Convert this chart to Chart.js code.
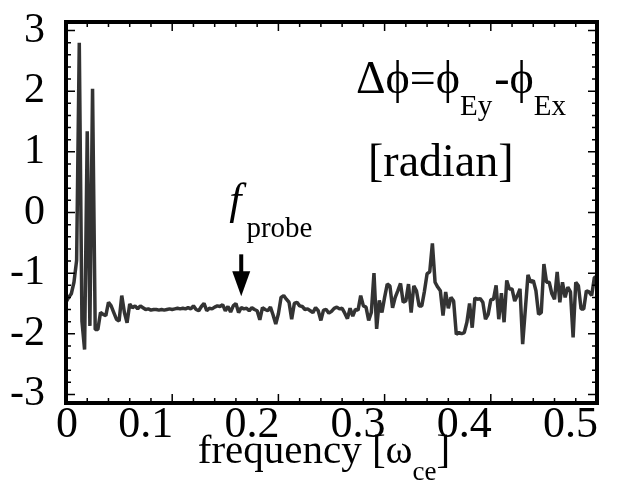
<!DOCTYPE html>
<html><head><meta charset="utf-8">
<script src="https://cdn.jsdelivr.net/npm/chart.js@4.4.1/dist/chart.umd.min.js"></script>
<style>html,body{margin:0;padding:0;background:#fff;}#wrap{width:640px;height:491px;}</style>
</head><body><div id="wrap"><canvas id="c" width="640" height="491"></canvas></div>
<script>
// frequency bin width (units of omega_ce)
const FREQ_STEP = 0.0025;
// phase difference [radian], one value per frequency bin from 0 to 0.5
const PHASE_DIFF = [
 -1.48,-1.40,-1.34,-1.15,-0.79, 2.80,-1.79,-2.26, 1.34,-1.87,
  2.04,-1.93,-1.93,-1.65,-1.68,-1.70,-1.48,-1.54,-1.65,-1.76,
 -1.79,-1.37,-1.65,-1.82,-1.51,-1.57,-1.54,-1.59,-1.54,-1.57,
 -1.60,-1.59,-1.61,-1.60,-1.60,-1.61,-1.60,-1.61,-1.60,-1.59,
 -1.60,-1.59,-1.58,-1.59,-1.58,-1.59,-1.57,-1.59,-1.54,-1.60,
 -1.62,-1.55,-1.50,-1.62,-1.58,-1.59,-1.56,-1.54,-1.55,-1.52,
 -1.62,-1.55,-1.64,-1.54,-1.50,-1.65,-1.57,-1.59,-1.58,-1.62,
 -1.57,-1.60,-1.62,-1.77,-1.57,-1.60,-1.62,-1.56,-1.69,-1.84,
 -1.67,-1.40,-1.37,-1.43,-1.48,-1.76,-1.50,-1.48,-1.54,-1.55,
 -1.60,-1.59,-1.62,-1.65,-1.57,-1.62,-1.78,-1.61,-1.60,-1.66,
 -1.63,-1.58,-1.56,-1.59,-1.58,-1.66,-1.75,-1.58,-1.71,-1.60,
 -1.61,-1.37,-1.54,-1.56,-1.78,-1.65,-1.00,-1.92,-1.45,-1.65,
 -1.40,-1.18,-1.21,-1.57,-1.40,-1.29,-1.17,-1.48,-1.46,-1.18,
 -1.65,-1.21,-1.29,-1.54,-1.54,-1.30,-1.01,-0.98,-0.51,-1.15,
 -1.23,-1.29,-1.70,-1.31,-1.58,-1.40,-1.46,-2.01,-1.98,-2.00,
 -1.98,-1.81,-1.50,-1.90,-1.41,-1.43,-1.42,-1.48,-1.76,-1.68,
 -1.44,-1.43,-1.20,-1.76,-1.33,-1.81,-1.12,-1.26,-1.26,-1.46,
 -1.37,-1.26,-2.17,-1.60,-1.03,-1.15,-1.12,-1.29,-1.68,-1.65,
 -0.85,-1.15,-1.15,-1.34,-1.43,-0.98,-1.48,-1.15,-1.40,-1.23,
 -1.31,-2.06,-1.15,-1.21,-1.59,-1.59,-1.29,-1.31,-1.37,-1.07,
 -1.06
];
const X_TICKS = [0, 0.1, 0.2, 0.3, 0.4, 0.5];
const X_TICK_LABELS = ['0', '0.1', '0.2', '0.3', '0.4', '0.5'];
const Y_TICKS = [-3, -2, -1, 0, 1, 2, 3];
const X_MINOR_STEP = 0.02;
const Y_MINOR_STEP = 0.2;
const X_MIN = 0, X_MAX = 0.5;
const Y_MIN = -Math.PI, Y_MAX = Math.PI;
const F_PROBE = 0.165;

const points = PHASE_DIFF.map((v, i) => ({x: +(i * FREQ_STEP).toFixed(4), y: v}));

const SERIF = '"Liberation Serif", "DejaVu Serif", serif';

function richText(ctx, x, y, parts) {
  let cx = x;
  for (const p of parts) {
    ctx.font = p.font;
    cx += (p.pre || 0);
    ctx.fillText(p.t, cx, y + (p.dy || 0));
    cx += ctx.measureText(p.t).width;
  }
  return cx;
}
function richWidth(ctx, parts) {
  let w = 0;
  for (const p of parts) { ctx.font = p.font; w += ctx.measureText(p.t).width + (p.pre || 0); }
  return w;
}

const decor = {
  id: 'decor',
  afterDatasetsDraw(chart) {
    const {ctx, chartArea: a, scales: {x, y}} = chart;
    ctx.save();
    // inward tick marks on all four sides
    ctx.strokeStyle = '#000';
    ctx.lineWidth = 1.5;
    ctx.beginPath();
    const nx = Math.round((X_MAX - X_MIN) / X_MINOR_STEP);
    for (let k = 0; k <= nx; k++) {
      const v = X_MIN + k * X_MINOR_STEP;
      const px = x.getPixelForValue(v);
      const L = (k % 5 === 0) ? 9 : 5;
      ctx.moveTo(px, a.bottom); ctx.lineTo(px, a.bottom - L);
      ctx.moveTo(px, a.top); ctx.lineTo(px, a.top + L);
    }
    for (let k = -15; k <= 15; k++) {
      const v = k * Y_MINOR_STEP;
      const py = y.getPixelForValue(v);
      const L = (k % 5 === 0) ? 9 : 5;
      ctx.moveTo(a.left, py); ctx.lineTo(a.left + L, py);
      ctx.moveTo(a.right, py); ctx.lineTo(a.right - L, py);
    }
    ctx.stroke();
    // frame
    ctx.lineWidth = 4;
    ctx.strokeRect(a.left, a.top, a.right - a.left, a.bottom - a.top);

    ctx.fillStyle = '#000';
    // x tick labels: "0" centred on its tick, the others end at their tick
    ctx.font = '44px ' + SERIF;
    ctx.textBaseline = 'middle';
    X_TICKS.forEach((v, i) => {
      const px = x.getPixelForValue(v);
      if (i === 0) { ctx.textAlign = 'center'; ctx.fillText(X_TICK_LABELS[i], px + 1, a.bottom + 22); }
      else { ctx.textAlign = 'right'; ctx.fillText(X_TICK_LABELS[i], px + 1, a.bottom + 22); }
    });
    ctx.textAlign = 'left';
    ctx.textBaseline = 'alphabetic';

    const big = '46px ' + SERIF, sub = '29px ' + SERIF;
    // Δϕ = ϕEy - ϕEx
    richText(ctx, 356, 93, [
      {t: 'Δϕ=ϕ', font: big},
      {t: 'Ey', font: sub, dy: 22},
      {t: '-ϕ', font: big, pre: 2},
      {t: 'Ex', font: sub, dy: 22}
    ]);
    ctx.font = '46px ' + SERIF;
    ctx.fillText('[radian]', 368, 176);

    // f_probe label and arrow
    const ax = x.getPixelForValue(F_PROBE);
    richText(ctx, ax - 12, 214, [
      {t: 'f', font: 'italic 44px ' + SERIF},
      {t: 'probe', font: sub, dy: 23, pre: 5}
    ]);
    const yTop = y.getPixelForValue(-0.69), yTip = y.getPixelForValue(-1.38);
    ctx.fillRect(ax - 2, yTop, 4, (yTip - yTop) - 20);
    ctx.beginPath();
    ctx.moveTo(ax - 9, yTip - 25); ctx.lineTo(ax + 9, yTip - 25); ctx.lineTo(ax, yTip);
    ctx.closePath(); ctx.fill();

    // x axis title
    const tparts = [
      {t: 'frequency [ω', font: '41px ' + SERIF},
      {t: 'ce', font: '27px ' + SERIF, dy: 17},
      {t: ']', font: '41px ' + SERIF}
    ];
    const tw = richWidth(ctx, tparts);
    richText(ctx, 324 - tw / 2, 463, tparts);
    ctx.restore();
  }
};

new Chart(document.getElementById('c'), {
  type: 'line',
  data: {
    datasets: [{
      data: points,
      borderColor: '#333333',
      borderWidth: 3.5,
      pointRadius: 0,
      tension: 0,
      borderJoinStyle: 'bevel',
      fill: false
    }]
  },
  options: {
    responsive: false,
    animation: false,
    devicePixelRatio: 1,
    layout: {padding: {top: 22, right: 43, left: 0, bottom: 0}},
    plugins: {legend: {display: false}, tooltip: {enabled: false}},
    scales: {
      x: {
        type: 'linear', min: X_MIN, max: X_MAX,
        afterBuildTicks: s => { s.ticks = X_TICKS.map(v => ({value: v})); },
        afterFit: s => { s.height = 88; s.paddingLeft = 0; s.paddingRight = 0; },
        grid: {display: false, drawTicks: false},
        border: {display: false},
        ticks: {display: false}
      },
      y: {
        type: 'linear', min: Y_MIN, max: Y_MAX,
        afterBuildTicks: s => { s.ticks = Y_TICKS.map(v => ({value: v})); },
        afterFit: s => { s.width = 66; s.paddingTop = 0; s.paddingBottom = 0; },
        grid: {display: false, drawTicks: false},
        border: {display: false},
        ticks: {
          padding: 21, autoSkip: false, color: '#000',
          font: {family: SERIF, size: 42, lineHeight: 1.0},
          callback: v => String(v)
        }
      }
    }
  },
  plugins: [decor]
});
</script></body></html>
